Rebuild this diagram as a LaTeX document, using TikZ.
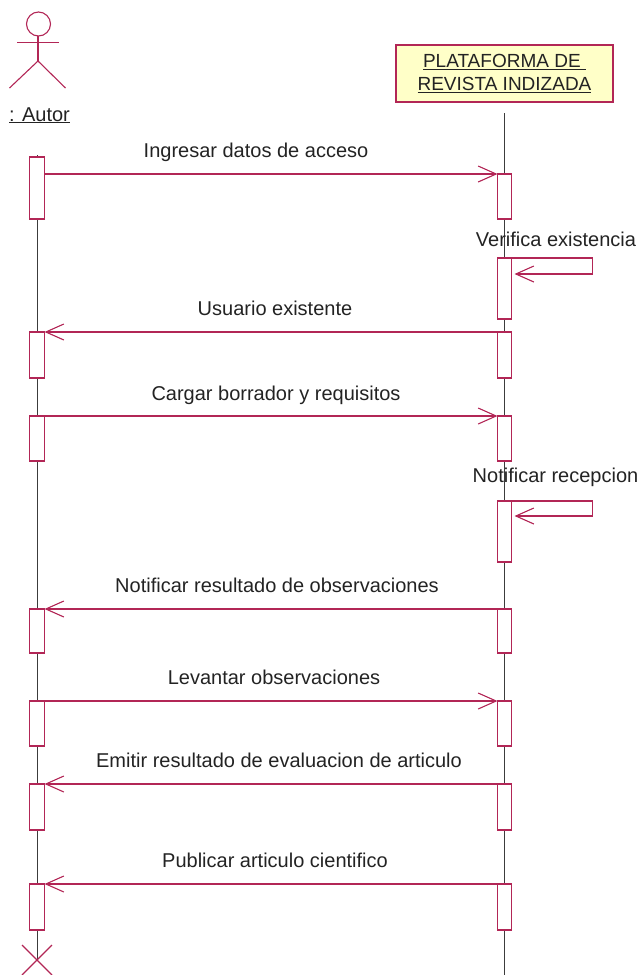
\documentclass[tikz,border=0pt]{standalone}
\usepackage{fontspec}
\setmainfont{Liberation Sans}
\usetikzlibrary{arrows.meta}
\definecolor{rose}{RGB}{178,38,86}
\definecolor{boxfill}{RGB}{255,255,200}
\definecolor{ink}{RGB}{35,35,35}
\definecolor{lifegray}{RGB}{60,60,60}
\begin{document}
\begin{tikzpicture}[x=1pt,y=-1pt,
  actbox/.style={draw=rose, line width=1.1pt, fill=white, inner sep=0pt, outer sep=0pt},
  aact/.style={actbox, minimum width=15pt},
  pact/.style={actbox, minimum width=14pt},
  msg/.style={draw=rose, line width=1.1pt, -{Straight Barb[length=18pt,width=16pt]}},
  lbl/.style={anchor=base, inner sep=0pt, text=ink, font=\fontsize{20}{24}\selectfont},
  life/.style={draw=lifegray, line width=0.9pt},
  fig/.style={draw=rose, line width=1.1pt}]
\useasboundingbox (0,0) rectangle (642,975);

% actor figure
\draw[fig] (38.5,24) circle[radius=12pt];
\draw[fig] (38,36) -- (38,61);
\draw[fig] (17,42.5) -- (59,42.5);
\draw[fig] (9.5,88) -- (38,61) -- (65.5,88);
\node[lbl] (autor) at (39.5,121) {\underline{: Autor}};

% platform object
\node[draw=rose, fill=boxfill, line width=1.1pt, minimum width=217pt, minimum height=57pt,
      inner sep=0pt, align=center, text=ink, font=\fontsize{19}{23}\selectfont]
      (plat) at (504.5,73.5) {\underline{PLATAFORMA DE\ }\\\underline{REVISTA INDIZADA}};

% lifelines
\coordinate (atop) at (37,155);
\coordinate (aend) at (37,960);
\coordinate (ptop) at (504.5,113);
\coordinate (pend) at (504.5,975);
\draw[life] (atop) -- (aend);
\draw[life] (ptop) -- (pend);

% destruction mark
\draw[fig] ([shift={(-15pt,15pt)}]aend) -- ([shift={(15pt,-15pt)}]aend);
\draw[fig] ([shift={(-15pt,-15pt)}]aend) -- ([shift={(15pt,15pt)}]aend);

% actor activations
\node[aact, minimum height=62pt] (a1) at (37,188) {};
\node[aact, minimum height=46pt] (a2) at (37,355) {};
\node[aact, minimum height=45pt] (a3) at (37,438.5) {};
\node[aact, minimum height=44pt] (a4) at (37,631) {};
\node[aact, minimum height=45pt] (a5) at (37,723.5) {};
\node[aact, minimum height=46pt] (a6) at (37,807) {};
\node[aact, minimum height=46pt] (a7) at (37,907) {};

% platform activations
\node[pact, minimum height=45pt] (p1) at (504.5,196.5) {};
\node[pact, minimum height=61pt] (p2) at (504.5,288.5) {};
\node[pact, minimum height=46pt] (p3) at (504.5,355) {};
\node[pact, minimum height=45pt] (p4) at (504.5,438.5) {};
\node[pact, minimum height=61pt] (p5) at (504.5,531.5) {};
\node[pact, minimum height=44pt] (p6) at (504.5,631) {};
\node[pact, minimum height=45pt] (p7) at (504.5,723.5) {};
\node[pact, minimum height=46pt] (p8) at (504.5,807) {};
\node[pact, minimum height=46pt] (p9) at (504.5,907) {};

% messages
\draw[msg] (a1.east |- p1.north) -- (p1.north west);
\node[lbl] (m1) at (256,157) {Ingresar datos de acceso};

\draw[msg] (p2.north east) -| ([xshift=81pt,yshift=-16pt]p2.north east) -- ([xshift=3pt,yshift=-16pt]p2.north east);
\node[lbl] (m2) at (556,246.5) {Verifica existencia};

\draw[msg] (p3.north west) -- (a2.north east);
\node[lbl] (m3) at (275,315) {Usuario existente};

\draw[msg] (a3.north east) -- (p4.north west);
\node[lbl] (m4) at (276,400) {Cargar borrador y requisitos};

\draw[msg] (p5.north east) -| ([xshift=81pt,yshift=-15pt]p5.north east) -- ([xshift=3pt,yshift=-15pt]p5.north east);
\node[lbl] (m5) at (555.5,482.5) {Notificar recepcion};

\draw[msg] (p6.north west) -- (a4.north east);
\node[lbl] (m6) at (277,592) {Notificar resultado de observaciones};

\draw[msg] (a5.north east) -- (p7.north west);
\node[lbl] (m7) at (274,684) {Levantar observaciones};

\draw[msg] (p8.north west) -- (a6.north east);
\node[lbl] (m8) at (279,767) {Emitir resultado de evaluacion de articulo};

\draw[msg] (p9.north west) -- (a7.north east);
\node[lbl] (m9) at (275,867) {Publicar articulo cientifico};
\end{tikzpicture}
\end{document}
